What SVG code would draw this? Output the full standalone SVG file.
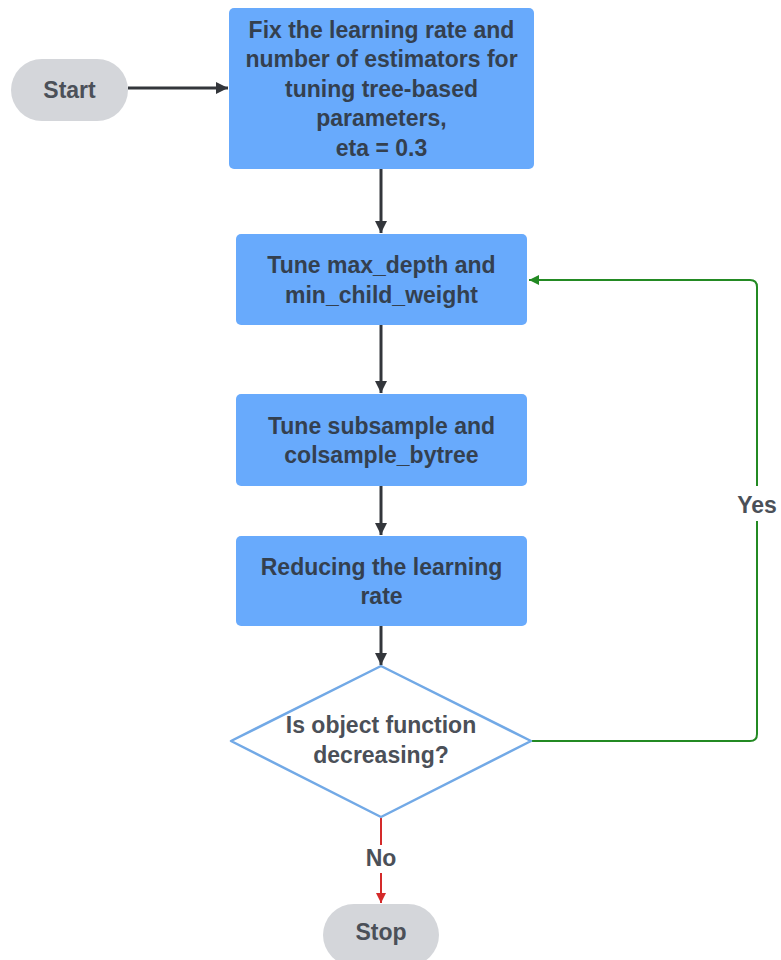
<svg xmlns="http://www.w3.org/2000/svg" width="781" height="960" viewBox="0 0 781 960">
<style>
.box{fill:#68aafc;}
.pill{fill:#d4d6da;}
.dia{fill:#ffffff;stroke:#72a9e6;stroke-width:2.5;stroke-linejoin:round;}
text{font-family:"Liberation Sans",Arial,sans-serif;font-weight:bold;font-size:23px;text-anchor:middle;}
.bt{fill:#34404f;}
.gt{fill:#4b5058;}
.dark{stroke:#33363b;stroke-width:3;fill:none;}
.green{stroke:#238a23;stroke-width:2;fill:none;}
.red{stroke:#d42a2a;stroke-width:2;fill:none;}
</style>
<defs>
<marker id="ad" viewBox="0 0 10 10" refX="10" refY="5" markerWidth="4" markerHeight="4.4" orient="auto" markerUnits="strokeWidth"><path d="M0,0 L10,5 L0,10 z" fill="#33363b"/></marker>
<marker id="ag" viewBox="0 0 10 10" refX="10" refY="5" markerWidth="6" markerHeight="5" orient="auto" markerUnits="strokeWidth"><path d="M0,0 L10,5 L0,10 z" fill="#238a23"/></marker>
<marker id="ar" viewBox="0 0 10 10" refX="10" refY="5" markerWidth="5" markerHeight="6" orient="auto" markerUnits="strokeWidth"><path d="M0,0 L10,5 L0,10 z" fill="#d42a2a"/></marker>
</defs>
<rect width="781" height="960" fill="#ffffff"/>
<g id="connectors">
<line class="dark" x1="128" y1="88" x2="228" y2="88" marker-end="url(#ad)"/>
<line class="dark" x1="381" y1="169" x2="381" y2="233" marker-end="url(#ad)"/>
<line class="dark" x1="381" y1="325" x2="381" y2="393" marker-end="url(#ad)"/>
<line class="dark" x1="381" y1="486" x2="381" y2="535" marker-end="url(#ad)"/>
<line class="dark" x1="381" y1="626" x2="381" y2="665" marker-end="url(#ad)"/>
<path class="green" d="M532,741 L750,741 Q757,741 757,734 L757,521 M757,486 L757,287 Q757,280 750,280 L529,280" marker-end="url(#ag)"/>
<text class="gt" x="757" y="513">Yes</text>
<line class="red" x1="381" y1="818" x2="381" y2="845"/>
<line class="red" x1="381" y1="873" x2="381" y2="903" marker-end="url(#ar)"/>
<text class="gt" x="381" y="866">No</text>
</g>
<g id="start">
<rect class="pill" x="11" y="59" width="117" height="62" rx="31"/>
<text class="gt" x="69.5" y="98">Start</text>
</g>
<g id="fix">
<rect class="box" x="229" y="8" width="305" height="161" rx="5"/>
<text class="bt" x="381.5" y="37.5">Fix the learning rate and</text>
<text class="bt" x="381.5" y="67">number of estimators for</text>
<text class="bt" x="381.5" y="96.5">tuning tree-based</text>
<text class="bt" x="381.5" y="126">parameters,</text>
<text class="bt" x="381.5" y="155.5">eta = 0.3</text>
</g>
<g id="tune1">
<rect class="box" x="236" y="234" width="291" height="91" rx="5"/>
<text class="bt" x="381.5" y="273">Tune max_depth and</text>
<text class="bt" x="381.5" y="302.5">min_child_weight</text>
</g>
<g id="tune2">
<rect class="box" x="236" y="394" width="291" height="92" rx="5"/>
<text class="bt" x="381.5" y="433.5">Tune subsample and</text>
<text class="bt" x="381.5" y="463">colsample_bytree</text>
</g>
<g id="reduce">
<rect class="box" x="236" y="536" width="291" height="90" rx="5"/>
<text class="bt" x="381.5" y="574.5">Reducing the learning</text>
<text class="bt" x="381.5" y="604">rate</text>
</g>
<g id="decision">
<polygon class="dia" points="381,666 531,741 381,817 231,741"/>
<text class="gt" x="381" y="733">Is object function</text>
<text class="gt" x="381" y="762.5">decreasing?</text>
</g>
<g id="stop">
<rect class="pill" x="323" y="904" width="116" height="62" rx="31"/>
<text class="gt" x="381" y="940">Stop</text>
</g>
</svg>
